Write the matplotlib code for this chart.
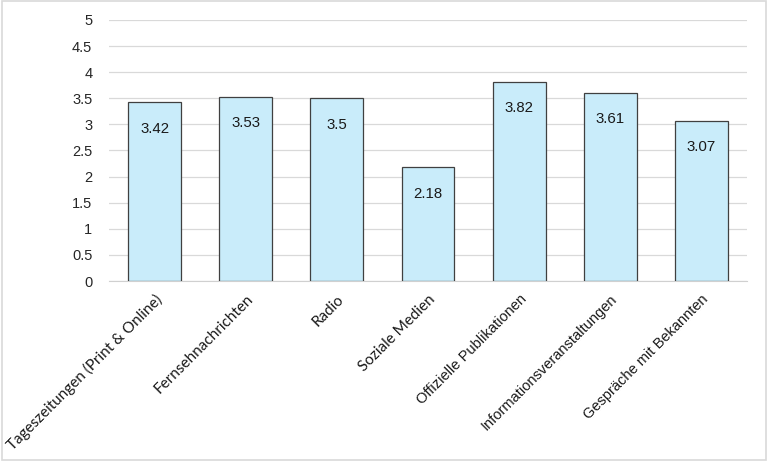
import matplotlib.pyplot as plt
from matplotlib.patches import Rectangle

categories = [
	"Tageszeitungen (Print & Online)",
	"Fernsehnachrichten",
	"Radio",
	"Soziale Medien",
	"Offizielle Publikationen",
	"Informationsveranstaltungen",
	"Gespräche mit Bekannten",
]
values = [3.42, 3.53, 3.5, 2.18, 3.82, 3.61, 3.07]
value_labels = ["3.42", "3.53", "3.5", "2.18", "3.82", "3.61", "3.07"]
y_ticks = [0, 0.5, 1, 1.5, 2, 2.5, 3, 3.5, 4, 4.5, 5]
y_tick_labels = ["0", "0.5", "1", "1.5", "2", "2.5", "3", "3.5", "4", "4.5", "5"]
# the first labels look like Calibri in the original, the rest like Arial
label_fonts = ["Lato", "Lato", "Lato", "Lato", "Liberation Sans", "Liberation Sans", "Liberation Sans"]
label_sizes = [11, 11, 11, 11, 10.5, 10.5, 10.5]

fig = plt.figure(figsize=(7.68, 4.61), dpi=100)
ax = fig.add_axes([109 / 768, 1 - 281 / 461, (747 - 109) / 768, (281 - 20) / 461])

x = list(range(len(categories)))
ax.bar(x, values, width=0.58, color="#C9ECFA", edgecolor="#404040", linewidth=0.9, zorder=3)

for xi, v, lab in zip(x, values, value_labels):
	ax.annotate(lab, (xi, v), xytext=(0, -19), textcoords="offset points",
		ha="center", va="center", fontsize=10.8, family="Liberation Sans", color="#1a1a1a", zorder=4)

ax.set_xlim(-0.5, len(categories) - 0.5)
ax.set_ylim(0, 5)
ax.set_yticks(y_ticks)
ax.set_yticklabels(y_tick_labels, family="Liberation Sans", fontsize=10.5, color="#262626")
ax.set_xticks(x)
ax.set_xticklabels(categories, rotation=45, ha="right", rotation_mode="anchor")
for t, f, s in zip(ax.get_xticklabels(), label_fonts, label_sizes):
	t.set_family(f)
	t.set_fontsize(s)
	t.set_color("#1a1a1a")

ax.grid(axis="y", color="#D9D9D9", linewidth=0.9, zorder=0)
for s in ["top", "right", "left"]:
	ax.spines[s].set_visible(False)
ax.spines["bottom"].set_color("#D0D0D0")
ax.tick_params(axis="y", length=0, pad=12)
ax.tick_params(axis="x", length=0, pad=8)

fig.patches.append(Rectangle((0.002, 0.002), 0.996, 0.996, transform=fig.transFigure,
	fill=False, edgecolor="#D9D9D9", linewidth=1.2))

fig.savefig("out.png", dpi=100)
